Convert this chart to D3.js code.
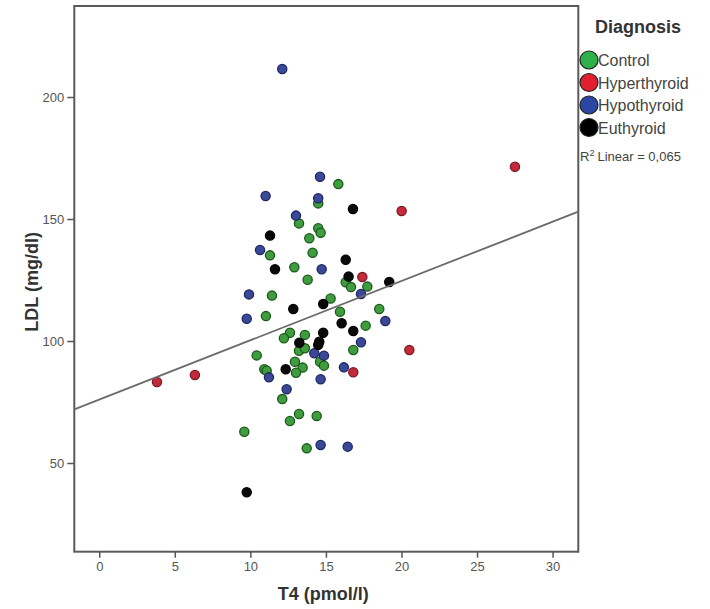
<!DOCTYPE html>
<html>
<head>
<meta charset="utf-8">
<script src="https://cdn.jsdelivr.net/npm/d3@7"></script>
<style>
  html, body { margin: 0; padding: 0; background: #fff; }
  svg { display: block; }
  text { font-family: "Liberation Sans", Arial, sans-serif; }
</style>
</head>
<body>
<svg id="chart" width="710" height="609"></svg>
<script>
// ---- Data ----
const categories = ["Control", "Hyperthyroid", "Hypothyroid", "Euthyroid"];

const controlPts = [
  [15.82,164.3],[14.49,156.4],[13.22,148.2],[14.49,146.2],[14.65,144.4],[13.90,142.1],
  [11.30,135.1],[14.12,136.2],[12.91,130.2],[13.79,125.1],[16.31,124.1],[16.66,122.1],
  [17.74,122.3],[11.43,118.6],[15.31,117.4],[15.93,112.0],[18.53,113.1],[11.03,110.2],
  [17.63,106.3],[12.62,103.4],[12.22,101.1],[13.61,102.5],[13.22,96.0],[13.61,97.0],
  [16.81,96.3],[10.42,94.1],[12.95,91.5],[14.61,91.5],[14.87,89.9],[13.46,89.1],
  [13.02,87.0],[10.92,88.4],[11.08,87.8],[12.11,76.2],[13.22,70.1],[12.62,67.2],
  [14.39,69.3],[9.60,62.8],[13.73,56.0]
];
const hyperPts = [
  [20.01,153.3],[27.51,171.4],[17.41,126.2],[20.52,96.3],[16.81,87.2],[3.82,83.2],[6.33,86.1]
];
const hypoPts = [
  [12.11,211.5],[14.61,167.3],[11.01,159.4],[14.49,158.5],[13.02,151.4],[10.64,137.3],
  [14.72,129.4],[17.32,119.3],[9.91,119.1],[9.76,109.1],[18.93,108.2],[17.32,99.5],
  [14.23,95.0],[14.87,94.0],[16.19,89.2],[11.23,85.1],[14.65,84.3],[12.40,80.2],
  [14.65,57.4],[16.44,56.7]
];
const euthyPts = [
  [16.79,154.1],[11.30,143.2],[16.31,133.3],[11.63,129.4],[16.50,126.4],[19.19,124.2],
  [12.84,113.1],[14.82,115.2],[16.04,107.3],[16.81,104.1],[14.82,103.4],[13.24,99.3],
  [14.56,99.7],[14.49,98.4],[12.34,88.4],[9.76,38.0]
];
const seriesPoints = [controlPts, hyperPts, hypoPts, euthyPts];

const xTicks = [0, 5, 10, 15, 20, 25, 30];
const yTicks = [50, 100, 150, 200];
const xDomain = [-1.65, 31.7];
const yDomain = [13.65, 237.3];
const fitIntercept = 76.0;
const fitSlope = 2.43;
const legendTitle = "Diagnosis";
const r2Label = "Linear = 0,065";
const xLabel = "T4 (pmol/l)";
const yLabel = "LDL (mg/dl)";

// ---- Styles ----
const pointFill = ["#3f9c3f", "#c42a3a", "#3a4896", "#0a0a0a"];
const pointStroke = ["#1c5a1c", "#7a1a24", "#1d2766", "#000000"];
const legendFill = ["#2eb04a", "#e0202e", "#2c46a6", "#000000"];

const svg = d3.select("#chart");
const frame = { left: 74.3, right: 578.3, top: 6, bottom: 551.7 };

const x = d3.scaleLinear().domain(xDomain).range([frame.left, frame.right]);
const y = d3.scaleLinear().domain(yDomain).range([frame.bottom, frame.top]);

// Plot frame
svg.append("rect")
  .attr("x", frame.left).attr("y", frame.top)
  .attr("width", frame.right - frame.left).attr("height", frame.bottom - frame.top)
  .attr("fill", "#fff").attr("stroke", "#5a5a5a").attr("stroke-width", 2);

// Axes
const xAxis = d3.axisBottom(x).tickValues(xTicks).tickSize(6).tickPadding(4).tickFormat(d3.format("d"));
const gx = svg.append("g").attr("transform", `translate(0,${frame.bottom})`).call(xAxis);
gx.select(".domain").remove();
gx.selectAll("line").attr("stroke", "#555").attr("stroke-width", 1.5);
gx.selectAll("text").attr("fill", "#555").attr("font-size", 13);

const yAxis = d3.axisLeft(y).tickValues(yTicks).tickSize(7).tickPadding(3).tickFormat(d3.format("d"));
const gy = svg.append("g").attr("transform", `translate(${frame.left},0)`).call(yAxis);
gy.select(".domain").remove();
gy.selectAll("line").attr("stroke", "#555").attr("stroke-width", 1.5);
gy.selectAll("text").attr("fill", "#555").attr("font-size", 13);

// Axis titles
svg.append("text")
  .attr("x", (frame.left + frame.right) / 2 - 3).attr("y", 600)
  .attr("text-anchor", "middle").attr("font-size", 18).attr("font-weight", "bold").attr("fill", "#333")
  .text(xLabel);
svg.append("text")
  .attr("transform", `translate(38,${(frame.top + frame.bottom) / 2 + 3}) rotate(-90)`)
  .attr("text-anchor", "middle").attr("font-size", 18).attr("font-weight", "bold").attr("fill", "#333")
  .text(yLabel);

// Clip
svg.append("clipPath").attr("id", "clip")
  .append("rect").attr("x", frame.left).attr("y", frame.top)
  .attr("width", frame.right - frame.left).attr("height", frame.bottom - frame.top);

// Points
const gp = svg.append("g").attr("clip-path", "url(#clip)");
seriesPoints.forEach((pts, i) => {
  gp.selectAll(null).data(pts).enter().append("circle")
    .attr("cx", d => x(d[0])).attr("cy", d => y(d[1])).attr("r", 4.6)
    .attr("fill", pointFill[i]).attr("stroke", pointStroke[i]).attr("stroke-width", 1.3);
});

// Fit line
gp.append("line")
  .attr("x1", x(xDomain[0])).attr("y1", y(fitIntercept + fitSlope * xDomain[0]))
  .attr("x2", x(xDomain[1])).attr("y2", y(fitIntercept + fitSlope * xDomain[1]))
  .attr("stroke", "#6a6a6a").attr("stroke-width", 1.8);

// Legend
const lg = svg.append("g");
lg.append("text").attr("x", 595).attr("y", 33).attr("font-size", 18).attr("font-weight", "bold")
  .attr("fill", "#333").text(legendTitle);
categories.forEach((c, i) => {
  const cy = 60 + i * 22.5;
  lg.append("circle").attr("cx", 589).attr("cy", cy).attr("r", 9)
    .attr("fill", legendFill[i]).attr("stroke", "#222").attr("stroke-width", 1.2);
  lg.append("text").attr("x", 598).attr("y", cy + 6).attr("font-size", 16).attr("fill", "#444").text(c);
});
const r2 = lg.append("text").attr("x", 580).attr("y", 161).attr("font-size", 13).attr("fill", "#444");
r2.append("tspan").text("R");
r2.append("tspan").attr("dy", -5).attr("font-size", 9).text("2");
r2.append("tspan").attr("dy", 5).attr("dx", 3).text(r2Label);
</script>
</body>
</html>
